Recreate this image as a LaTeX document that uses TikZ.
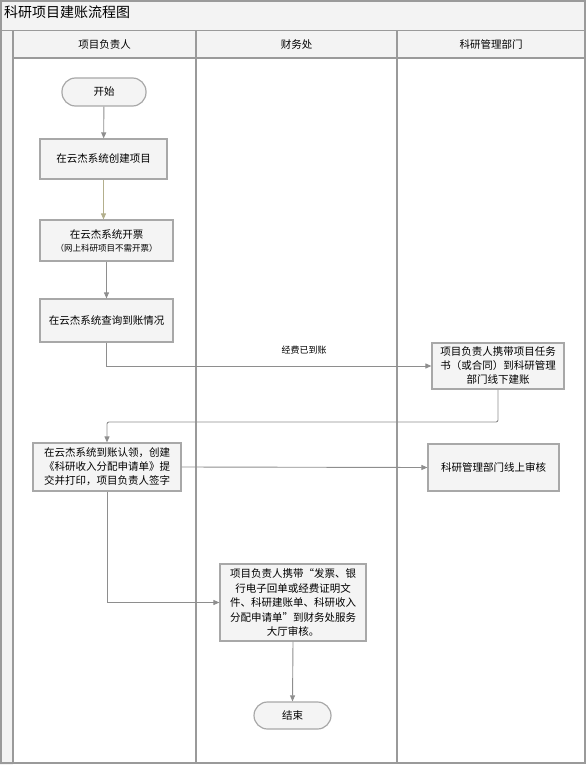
\documentclass[tikz,border=0pt]{standalone}
\usepackage{fontspec}
\setmainfont{Noto Sans CJK SC}
\usetikzlibrary{arrows.meta}
\definecolor{bandfill}{HTML}{F3F3F3}
\definecolor{boxfill}{HTML}{F4F4F4}
\definecolor{laneline}{HTML}{9A9A9A}
\definecolor{boxline}{HTML}{A8A8A8}
\definecolor{conn}{HTML}{8E8E8E}
\definecolor{olivec}{HTML}{B3AF8C}
\tikzset{
  procbox/.style={draw=boxline, fill=boxfill, line width=1.2pt, rectangle, inner sep=0pt, align=center,
    font=\fontsize{10.5}{14}\selectfont},
  termbox/.style={procbox, rounded corners=13.5pt},
  lanehead/.style={font=\fontsize{10.5}{13}\selectfont, inner sep=0pt},
  arr/.style={draw=conn, line width=0.9pt, -{Triangle[length=6pt,width=5pt]}},
  lane/.style={draw=laneline, line width=1.3pt}
}
\begin{document}
\begin{tikzpicture}[x=1pt,y=-1pt]
\useasboundingbox (0,0) rectangle (586,765);
% backgrounds
\fill[bandfill] (0,0) rectangle (586,31);
\fill[bandfill] (0,31) rectangle (586,58);
\fill[bandfill] (0,58) rectangle (13,765);
% lines
\draw[lane, line width=1pt] (0,31) -- (586,31);
\draw[lane] (13,58) -- (586,58);
\draw[lane] (13,31) -- (13,764);
\draw[lane] (196,31) -- (196,764);
\draw[lane] (397,31) -- (397,764);
\draw[lane, line width=1.6pt] (0.8,0.8) rectangle (585.2,763.2);
% title and headers
\node[anchor=west, font=\fontsize{14}{16}\selectfont, inner sep=0pt] (title) at (4,12) {科研项目建账流程图};
\node[lanehead] (h1) at (104.5,45) {项目负责人};
\node[lanehead] (h2) at (296.5,45) {财务处};
\node[lanehead] (h3) at (491,45) {科研管理部门};
% nodes
\node[termbox, minimum width=84pt, minimum height=28pt] (start) at (104,92) {开始};
\node[procbox, minimum width=127pt, minimum height=40pt] (create) at (103.5,159) {在云杰系统创建项目};
\node[procbox, minimum width=133pt, minimum height=41pt] (invoice) at (106.5,240.5)
  {在云杰系统开票\\[-1pt]{\fontsize{8.5}{11}\selectfont （网上科研项目不需开票）}};
\node[procbox, minimum width=133pt, minimum height=43pt] (query) at (106.5,320.5) {在云杰系统查询到账情况};
\node[procbox, minimum width=132pt, minimum height=46pt] (offline) at (498,366)
  {项目负责人携带项目任务\\书（或合同）到科研管理\\部门线下建账};
\node[procbox, minimum width=148pt, minimum height=48pt] (claim) at (107,467)
  {在云杰系统到账认领，创建\\《科研收入分配申请单》提\\交并打印，项目负责人签字};
\node[procbox, minimum width=131pt, minimum height=47pt] (review) at (493.5,467.5) {科研管理部门线上审核};
\node[procbox, minimum width=146pt, minimum height=77pt, font=\fontsize{10.5}{14.5}\selectfont] (final) at (293,602.5)
  {项目负责人携带“发票、银\\行电子回单或经费证明文\\件、科研建账单、科研收入\\分配申请单”到财务处服务\\大厅审核。};
\node[termbox, minimum width=77pt, minimum height=27pt] (end) at (292.5,715.5) {结束};
\node[font=\fontsize{9}{11}\selectfont, inner sep=0pt] (lbl) at (304,350) {经费已到账};
\coordinate (turn) at (498,422);
% connectors
\draw[arr] (start) -- (create);
\draw[arr, draw=olivec] (create.south) -- (create.south |- invoice.north);
\draw[arr] (invoice) -- (query);
\draw[arr] (query.south) |- (offline.west);
\draw[arr, rounded corners=2pt] (offline.south) -- (turn) -| (claim.north);
\draw[arr] (claim.east) -- (review.west);
\draw[arr] (claim.south) |- (final.west);
\draw[arr] (final.south) -- (end.north);
\end{tikzpicture}
\end{document}
